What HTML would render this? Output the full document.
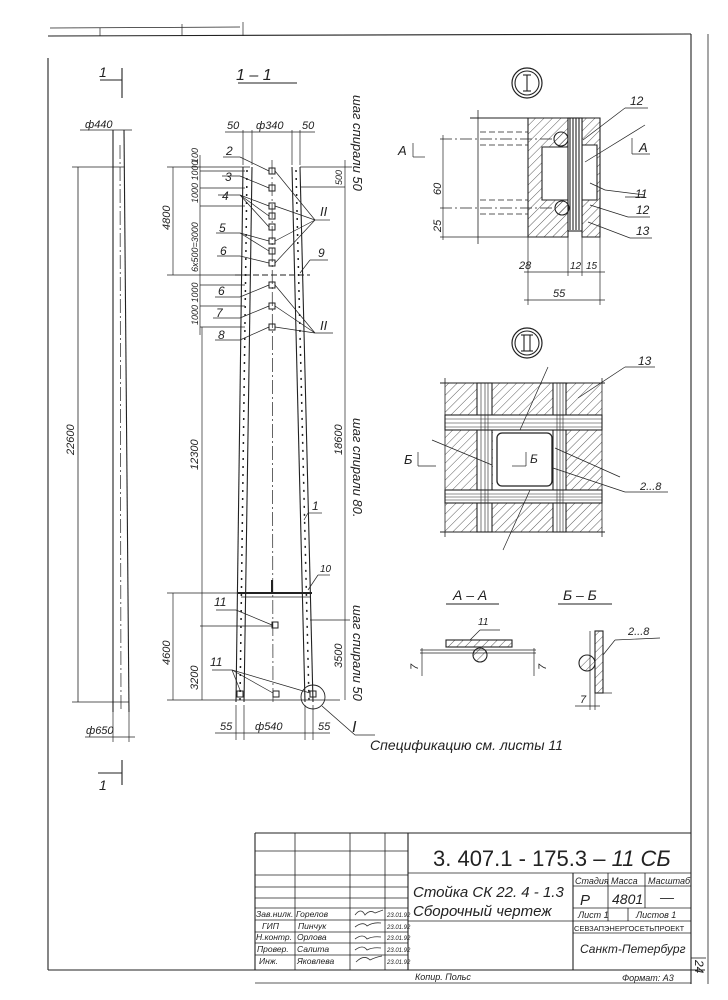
<!DOCTYPE html>
<html><head><meta charset="utf-8"><style>
html,body{margin:0;padding:0;background:#fff}
svg{display:block}
text{font-family:"Liberation Sans",sans-serif;font-style:italic;fill:#222}
</style></head><body>
<svg width="728" height="1000" viewBox="0 0 728 1000" xmlns="http://www.w3.org/2000/svg">
<defs>
<pattern id="h" width="6" height="6" patternUnits="userSpaceOnUse" patternTransform="rotate(45)"><line x1="0" y1="0" x2="0" y2="6" stroke="#333" stroke-width="0.8"/></pattern>
</defs>
<g stroke="#222" fill="none" stroke-width="1.1">
<!-- frame -->
<line x1="48" y1="36" x2="691" y2="34"/>
<line x1="48" y1="58" x2="48" y2="970"/>
<line x1="691" y1="34" x2="691" y2="984"/>
<line x1="708" y1="34" x2="708" y2="984" stroke-width="0.8"/>
<line x1="48" y1="970" x2="705" y2="970"/>
<line x1="50" y1="28" x2="240" y2="27" stroke-width="0.7"/>
<line x1="100" y1="28" x2="100" y2="36" stroke-width="0.7"/>
<line x1="182" y1="24" x2="182" y2="36" stroke-width="0.7"/>
<line x1="243" y1="22" x2="243" y2="36" stroke-width="0.7"/>
<!-- title block -->
<line x1="255" y1="833" x2="691" y2="833"/>
<line x1="255" y1="833" x2="255" y2="970"/>
<g stroke-width="0.8">
<line x1="255" y1="851" x2="408" y2="851"/><line x1="255" y1="875" x2="408" y2="875"/>
<line x1="255" y1="887" x2="408" y2="887"/><line x1="255" y1="898" x2="408" y2="898"/>
<line x1="255" y1="908" x2="408" y2="908"/><line x1="255" y1="920" x2="408" y2="920"/>
<line x1="255" y1="932" x2="408" y2="932"/><line x1="255" y1="943" x2="408" y2="943"/>
<line x1="255" y1="955" x2="408" y2="955"/>
<line x1="295" y1="833" x2="295" y2="970"/><line x1="350" y1="833" x2="350" y2="970"/>
<line x1="385" y1="833" x2="385" y2="970"/>
<line x1="408" y1="873" x2="691" y2="873"/>
<line x1="573" y1="886" x2="691" y2="886"/>
<line x1="573" y1="908" x2="691" y2="908"/>
<line x1="573" y1="921" x2="691" y2="921"/>
<line x1="573" y1="933" x2="691" y2="933"/>
<line x1="408" y1="921" x2="573" y2="921"/>
<line x1="608" y1="873" x2="608" y2="921"/><line x1="645" y1="873" x2="645" y2="908"/>
<line x1="628" y1="908" x2="628" y2="921"/>
<line x1="691" y1="958" x2="706" y2="958"/>
<line x1="255" y1="983" x2="691" y2="983"/>
</g>
<line x1="408" y1="833" x2="408" y2="970"/>
<line x1="573" y1="873" x2="573" y2="970"/>

<!-- left elevation -->
<line x1="113" y1="130" x2="113" y2="712"/>
<line x1="124" y1="130" x2="129" y2="712"/>
<line x1="120" y1="145" x2="121" y2="710" stroke-dasharray="14 3 2 3" stroke-width="0.7"/>
<line x1="78" y1="167" x2="78" y2="702" stroke-width="0.8"/>
<line x1="72" y1="167" x2="124" y2="167" stroke-width="0.8"/>
<line x1="72" y1="702" x2="129" y2="702" stroke-width="0.8"/>
<line x1="80" y1="130" x2="132" y2="130" stroke-width="0.8"/>
<line x1="85" y1="737" x2="135" y2="737" stroke-width="0.8"/>
<line x1="113" y1="712" x2="113" y2="742" stroke-width="0.7"/><line x1="129" y1="712" x2="129" y2="742" stroke-width="0.7"/>
<line x1="122" y1="68" x2="122" y2="98"/><line x1="100" y1="80" x2="122" y2="80"/>
<line x1="122" y1="760" x2="122" y2="785"/><line x1="98" y1="773" x2="122" y2="773"/>

<!-- section 1-1 -->
<line x1="238" y1="83" x2="297" y2="83"/>
<line x1="243" y1="167" x2="236" y2="702"/>
<line x1="252" y1="167" x2="244" y2="702"/>
<line x1="292" y1="167" x2="305" y2="702"/>
<line x1="300" y1="167" x2="313" y2="702"/>
<line x1="247" y1="170" x2="240" y2="700" stroke-dasharray="2 6" stroke-width="1.5"/>
<line x1="296" y1="170" x2="309" y2="700" stroke-dasharray="2 6" stroke-width="1.5"/>
<line x1="272" y1="160" x2="273" y2="705" stroke-dasharray="14 3 2 3" stroke-width="0.7"/>
<line x1="235" y1="275" x2="310" y2="275" stroke-dasharray="6 3"/>
<line x1="238" y1="593" x2="312" y2="593" stroke-width="2"/>
<line x1="241" y1="597" x2="310" y2="597" stroke-width="0.8"/>
<line x1="272" y1="580" x2="272" y2="593" stroke-width="2"/>
<!-- squares -->
<g stroke-width="1">
<rect x="269" y="168" width="6" height="6"/><rect x="269" y="185" width="6" height="6"/>
<rect x="269" y="203" width="6" height="6"/><rect x="269" y="213" width="6" height="6"/>
<rect x="269" y="224" width="6" height="6"/><rect x="269" y="238" width="6" height="6"/>
<rect x="269" y="248" width="6" height="6"/><rect x="269" y="260" width="6" height="6"/>
<rect x="269" y="282" width="6" height="6"/><rect x="269" y="303" width="6" height="6"/>
<rect x="269" y="324" width="6" height="6"/><rect x="272" y="622" width="6" height="6"/>
<rect x="237" y="691" width="6" height="6"/><rect x="273" y="691" width="6" height="6"/>
<rect x="310" y="691" width="6" height="6"/>
</g>
<circle cx="313" cy="697" r="12" stroke-width="0.9"/>
<line x1="322" y1="706" x2="355" y2="735" stroke-width="0.8"/><line x1="355" y1="735" x2="375" y2="735" stroke-width="0.8"/>
<!-- leaders -->
<g stroke-width="0.7">
<line x1="223" y1="157" x2="240" y2="157"/><line x1="240" y1="157" x2="269" y2="171"/>
<line x1="222" y1="176" x2="240" y2="176"/><line x1="240" y1="176" x2="269" y2="188"/>
<line x1="218" y1="195" x2="240" y2="195"/><line x1="240" y1="195" x2="269" y2="206"/><line x1="240" y1="195" x2="269" y2="216"/><line x1="240" y1="195" x2="269" y2="227"/>
<line x1="216" y1="233" x2="240" y2="233"/><line x1="240" y1="233" x2="269" y2="241"/><line x1="240" y1="233" x2="269" y2="251"/>
<line x1="217" y1="256" x2="240" y2="256"/><line x1="240" y1="256" x2="269" y2="263"/>
<line x1="215" y1="297" x2="240" y2="297"/><line x1="240" y1="297" x2="269" y2="285"/>
<line x1="213" y1="318" x2="240" y2="318"/><line x1="240" y1="318" x2="269" y2="306"/>
<line x1="215" y1="340" x2="240" y2="340"/><line x1="240" y1="340" x2="269" y2="327"/>
<line x1="315" y1="220" x2="330" y2="220"/><line x1="315" y1="220" x2="275" y2="171"/><line x1="315" y1="220" x2="275" y2="206"/><line x1="315" y1="220" x2="275" y2="241"/><line x1="315" y1="220" x2="275" y2="263"/>
<line x1="315" y1="333" x2="333" y2="333"/><line x1="315" y1="333" x2="275" y2="285"/><line x1="315" y1="333" x2="275" y2="306"/><line x1="315" y1="333" x2="275" y2="327"/>
<line x1="310" y1="260" x2="328" y2="260"/><line x1="310" y1="260" x2="300" y2="273"/>
<line x1="308" y1="513" x2="322" y2="513"/><line x1="308" y1="513" x2="304" y2="520"/>
<line x1="318" y1="575" x2="330" y2="575"/><line x1="318" y1="575" x2="308" y2="590"/>
<line x1="216" y1="610" x2="236" y2="610"/><line x1="236" y1="610" x2="272" y2="625"/>
<line x1="212" y1="670" x2="232" y2="670"/><line x1="232" y1="670" x2="240" y2="690"/><line x1="232" y1="670" x2="273" y2="693"/><line x1="232" y1="670" x2="310" y2="693"/>
</g>
<!-- dims section -->
<g stroke-width="0.7">
<line x1="173" y1="167" x2="173" y2="275"/><line x1="167" y1="167" x2="250" y2="167"/><line x1="167" y1="275" x2="250" y2="275"/>
<line x1="200" y1="155" x2="200" y2="335"/>
<line x1="200" y1="171" x2="245" y2="171"/><line x1="200" y1="188" x2="245" y2="188"/><line x1="200" y1="206" x2="245" y2="206"/>
<line x1="200" y1="285" x2="245" y2="285"/><line x1="200" y1="306" x2="245" y2="306"/><line x1="200" y1="327" x2="245" y2="327"/>
<line x1="202" y1="327" x2="202" y2="700"/>
<line x1="173" y1="593" x2="173" y2="700"/><line x1="167" y1="593" x2="238" y2="593"/><line x1="167" y1="700" x2="340" y2="700"/>
<line x1="200" y1="626" x2="272" y2="626"/>
<line x1="345" y1="160" x2="345" y2="700"/><line x1="300" y1="167" x2="352" y2="167"/><line x1="300" y1="187" x2="345" y2="187"/>
<line x1="310" y1="620" x2="350" y2="620"/>
<line x1="243" y1="130" x2="243" y2="165"/><line x1="252" y1="130" x2="252" y2="165"/><line x1="292" y1="130" x2="292" y2="165"/><line x1="300" y1="130" x2="300" y2="165"/>
<line x1="225" y1="132" x2="315" y2="132"/>
<line x1="215" y1="733" x2="330" y2="733"/>
<line x1="236" y1="705" x2="236" y2="740"/><line x1="244" y1="705" x2="244" y2="740"/><line x1="305" y1="705" x2="305" y2="740"/><line x1="313" y1="705" x2="313" y2="740"/>
</g>

<!-- detail I -->
<circle cx="527" cy="83" r="15" stroke-width="1.2"/><circle cx="527" cy="83" r="12"/>
<line x1="527" y1="75" x2="527" y2="91"/><line x1="523" y1="75" x2="531" y2="75"/><line x1="523" y1="91" x2="531" y2="91"/>
<path d="M528 118 H568 V237 H528 Z M542 147 H568 V200 H542 Z" fill="url(#h)" fill-rule="evenodd"/>
<path d="M582 118 H600 V237 H582 Z M582 145 H597 V200 H582 Z" fill="url(#h)" fill-rule="evenodd"/>
<rect x="568" y="118" width="14" height="113" fill="#fff"/>
<line x1="570" y1="118" x2="570" y2="230"/><line x1="573" y1="118" x2="573" y2="230"/><line x1="576" y1="118" x2="576" y2="230"/><line x1="579" y1="118" x2="579" y2="230"/>
<circle cx="561" cy="139" r="7" fill="url(#h)"/><circle cx="562" cy="208" r="7" fill="url(#h)"/>
<line x1="470" y1="118" x2="528" y2="118"/>
<line x1="478" y1="110" x2="478" y2="244" stroke-width="0.8"/>
<g stroke-width="0.7">
<line x1="480" y1="132" x2="528" y2="132" stroke-dasharray="6 3"/><line x1="480" y1="145" x2="528" y2="145" stroke-dasharray="6 3"/>
<line x1="480" y1="200" x2="528" y2="200" stroke-dasharray="6 3"/><line x1="480" y1="214" x2="528" y2="214" stroke-dasharray="6 3"/>
<line x1="440" y1="139" x2="555" y2="139" stroke-dasharray="12 3 2 3"/><line x1="440" y1="208" x2="555" y2="208" stroke-dasharray="12 3 2 3"/>
<line x1="443" y1="135" x2="443" y2="240"/><line x1="440" y1="237" x2="528" y2="237"/>
<line x1="528" y1="237" x2="528" y2="305"/><line x1="568" y1="237" x2="568" y2="276"/><line x1="582" y1="237" x2="582" y2="276"/><line x1="600" y1="237" x2="600" y2="305"/>
<line x1="524" y1="272" x2="605" y2="272"/><line x1="524" y1="300" x2="605" y2="300"/>
<line x1="413" y1="157" x2="425" y2="157"/><line x1="413" y1="143" x2="413" y2="157"/>
<line x1="632" y1="154" x2="650" y2="154"/><line x1="632" y1="138" x2="632" y2="154"/>
<line x1="625" y1="108" x2="648" y2="108"/><line x1="625" y1="108" x2="583" y2="140"/>
<line x1="645" y1="125" x2="585" y2="162"/>
<line x1="605" y1="190" x2="645" y2="195"/><line x1="590" y1="183" x2="605" y2="190"/>
<line x1="590" y1="205" x2="628" y2="217"/><line x1="628" y1="217" x2="650" y2="217"/>
<line x1="588" y1="222" x2="630" y2="238"/><line x1="630" y1="238" x2="652" y2="238"/>
<line x1="625" y1="197" x2="645" y2="197"/>
</g>

<!-- detail II -->
<circle cx="527" cy="343" r="15" stroke-width="1.2"/><circle cx="527" cy="343" r="12"/>
<line x1="524" y1="335" x2="524" y2="351"/><line x1="530" y1="335" x2="530" y2="351"/><line x1="521" y1="335" x2="533" y2="335"/><line x1="521" y1="351" x2="533" y2="351"/>
<rect x="445" y="383" width="157" height="149" fill="url(#h)" stroke="none"/>
<rect x="493" y="430" width="60" height="60" fill="#fff" stroke="none"/>
<rect x="497" y="433" width="55" height="53" rx="5" stroke-width="1.3"/>
<g fill="#fff">
<rect x="477" y="383" width="15" height="149"/><rect x="553" y="383" width="13" height="149"/>
<rect x="445" y="415" width="157" height="15"/><rect x="445" y="490" width="157" height="13"/>
</g>
<g stroke-width="0.6">
<line x1="481" y1="383" x2="481" y2="532"/><line x1="485" y1="383" x2="485" y2="532"/><line x1="488" y1="383" x2="488" y2="532"/>
<line x1="557" y1="383" x2="557" y2="532"/><line x1="560" y1="383" x2="560" y2="532"/><line x1="563" y1="383" x2="563" y2="532"/>
<line x1="445" y1="419" x2="602" y2="419"/><line x1="445" y1="423" x2="602" y2="423"/><line x1="445" y1="427" x2="602" y2="427"/>
<line x1="445" y1="494" x2="602" y2="494"/><line x1="445" y1="497" x2="602" y2="497"/><line x1="445" y1="500" x2="602" y2="500"/>
</g>
<line x1="440" y1="383" x2="605" y2="383"/><line x1="440" y1="532" x2="605" y2="532"/>
<line x1="445" y1="378" x2="445" y2="537" stroke-width="0.8"/><line x1="602" y1="378" x2="602" y2="537" stroke-width="0.8"/>
<g stroke-width="0.7">
<line x1="548" y1="367" x2="520" y2="430"/><line x1="530" y1="490" x2="503" y2="550"/>
<line x1="432" y1="440" x2="492" y2="465"/><line x1="555" y1="448" x2="620" y2="477"/>
<line x1="553" y1="468" x2="625" y2="492"/><line x1="625" y1="492" x2="668" y2="492"/>
<line x1="625" y1="367" x2="655" y2="367"/><line x1="625" y1="367" x2="578" y2="398"/>
<line x1="418" y1="466" x2="436" y2="466"/><line x1="418" y1="452" x2="418" y2="466"/>
<line x1="512" y1="466" x2="526" y2="466"/><line x1="526" y1="452" x2="526" y2="466"/>
</g>

<!-- A-A, Б-Б -->
<line x1="446" y1="604" x2="499" y2="604"/><line x1="558" y1="604" x2="612" y2="604"/>
<rect x="446" y="640" width="66" height="7" fill="url(#h)"/>
<circle cx="480" cy="655" r="7" fill="url(#h)"/>
<g stroke-width="0.7">
<line x1="420" y1="650" x2="536" y2="650"/><line x1="420" y1="653" x2="536" y2="653"/>
<line x1="422" y1="648" x2="422" y2="676"/><line x1="534" y1="648" x2="534" y2="676"/>
<line x1="470" y1="640" x2="480" y2="630"/><line x1="480" y1="630" x2="500" y2="630"/>
</g>
<rect x="595" y="631" width="8" height="62" fill="url(#h)"/>
<circle cx="587" cy="663" r="8" fill="url(#h)"/>
<g stroke-width="0.7">
<line x1="590" y1="631" x2="590" y2="710"/><line x1="595" y1="693" x2="595" y2="710"/>
<line x1="575" y1="706" x2="600" y2="706"/>
<line x1="603" y1="655" x2="615" y2="640"/><line x1="615" y1="640" x2="660" y2="638"/>
<line x1="603" y1="693" x2="612" y2="693"/>
</g>
</g>

<!-- texts -->
<g font-size="12">
<text x="99" y="77" font-size="14">1</text>
<text x="99" y="790" font-size="14">1</text>
<text x="236" y="80" font-size="16">1 – 1</text>
<text x="85" y="128" font-size="11">ф440</text>
<text x="86" y="734" font-size="11">ф650</text>
<text x="227" y="129" font-size="11">50</text><text x="256" y="129" font-size="11">ф340</text><text x="302" y="129" font-size="11">50</text>
<text x="220" y="730" font-size="11">55</text><text x="255" y="730" font-size="11">ф540</text><text x="318" y="730" font-size="11">55</text>
<text x="226" y="155">2</text><text x="225" y="181">3</text><text x="222" y="200">4</text><text x="219" y="232">5</text><text x="220" y="255">6</text>
<text x="218" y="295">6</text><text x="216" y="317">7</text><text x="218" y="339">8</text><text x="320" y="216" font-size="13">II</text><text x="320" y="330" font-size="13">II</text>
<text x="318" y="257">9</text><text x="312" y="510">1</text><text x="320" y="572" font-size="10">10</text>
<text x="214" y="606">11</text><text x="210" y="666">11</text>
<text x="352" y="732" font-size="16">I</text>
<text x="370" y="750" font-size="14">Спецификацию  см. листы 11</text>
<text x="519" y="269" font-size="11">28</text><text x="570" y="269" font-size="10">12</text><text x="586" y="269" font-size="10">15</text><text x="553" y="297" font-size="11">55</text>
<text x="630" y="105">12</text><text x="635" y="198">11</text><text x="636" y="214">12</text><text x="636" y="235">13</text>
<text x="398" y="155" font-size="13">А</text><text x="639" y="152" font-size="13">А</text>
<text x="404" y="464" font-size="13">Б</text><text x="530" y="463" font-size="12">Б</text>
<text x="638" y="365">13</text><text x="640" y="490" font-size="11">2...8</text>
<text x="453" y="600" font-size="14">А – А</text><text x="563" y="600" font-size="14">Б – Б</text>
<text x="478" y="625" font-size="10">11</text><text x="628" y="635" font-size="11">2...8</text>
<text x="580" y="703" font-size="11">7</text>
</g>
<g font-size="11">
<text transform="translate(74,455) rotate(-90)">22600</text>
<text transform="translate(170,230) rotate(-90)">4800</text>
<text transform="translate(198,470) rotate(-90)">12300</text>
<text transform="translate(170,665) rotate(-90)">4600</text>
<text transform="translate(198,690) rotate(-90)">3200</text>
<text transform="translate(198,163) rotate(-90)" font-size="9">100</text>
<text transform="translate(198,203) rotate(-90)" font-size="9">1000 1000</text>
<text transform="translate(198,272) rotate(-90)" font-size="9">6х500=3000</text>
<text transform="translate(198,325) rotate(-90)" font-size="9">1000 1000</text>
<text transform="translate(342,185) rotate(-90)" font-size="9">500</text>
<text transform="translate(342,455) rotate(-90)">18600</text>
<text transform="translate(342,668) rotate(-90)">3500</text>
<text transform="translate(353,95) rotate(90)" font-size="13">шаг спирали 50</text>
<text transform="translate(353,418) rotate(90)" font-size="13">шаг спирали 80.</text>
<text transform="translate(353,605) rotate(90)" font-size="13">шаг спирали 50</text>
<text transform="translate(441,195) rotate(-90)">60</text>
<text transform="translate(441,232) rotate(-90)">25</text>
<text transform="translate(418,670) rotate(-90)">7</text><text transform="translate(546,670) rotate(-90)">7</text>
</g>
<!-- title block text -->
<g>
<text x="433" y="866" font-size="22" style="font-style:normal">3. 407.1 - 175.3 –<tspan font-style="italic"> 11 СБ</tspan></text>
<text x="413" y="897" font-size="15">Стойка СК 22. 4 - 1.3</text>
<text x="413" y="916" font-size="15">Сборочный  чертеж</text>
<text x="575" y="884" font-size="9">Стадия</text><text x="611" y="884" font-size="9">Масса</text><text x="648" y="884" font-size="9">Масштаб</text>
<text x="580" y="905" font-size="15">P</text><text x="612" y="904" font-size="14">4801</text><text x="660" y="902" font-size="14">—</text>
<text x="578" y="918" font-size="9">Лист 1</text><text x="636" y="918" font-size="9">Листов 1</text>
<text x="574" y="931" font-size="7.5" style="font-style:normal">СЕВЗАПЭНЕРГОСЕТЬПРОЕКТ</text>
<text x="580" y="953" font-size="12">Санкт-Петербург</text>
<text x="415" y="980" font-size="9">Копир. Польс</text>
<text x="622" y="981" font-size="9">Формат: А3</text>
<text transform="translate(695,960) rotate(90)" font-size="12">24</text>
<g font-size="8.5">
<text x="256" y="917">Зав.нилк.</text><text x="296" y="917">Горелов</text>
<text x="262" y="929">ГИП</text><text x="298" y="929">Пинчук</text>
<text x="256" y="940">Н.контр.</text><text x="297" y="940">Орлова</text>
<text x="257" y="952">Провер.</text><text x="297" y="952">Салита</text>
<text x="259" y="964">Инж.</text><text x="297" y="964">Яковлева</text>
</g>
<g font-size="6">
<text x="387" y="917">23.01.92</text><text x="387" y="929">23.01.92</text><text x="387" y="940">23.01.92</text><text x="387" y="952">23.01.92</text><text x="387" y="964">23.01.92</text>
</g>
<g stroke="#333" fill="none" stroke-width="0.8">
<path d="M355 915 q6 -8 10 0 q5 -6 10 -2 l8 -3"/><path d="M355 927 q8 -6 12 -1 q6 -4 14 -3"/>
<path d="M355 939 q8 -6 12 0 q6 -3 14 -2"/><path d="M355 950 q8 -6 12 0 q6 -3 14 -2"/><path d="M356 962 q8 -8 14 -2 q6 -3 12 -4"/>
</g>
</g>
</svg>
</body></html>
